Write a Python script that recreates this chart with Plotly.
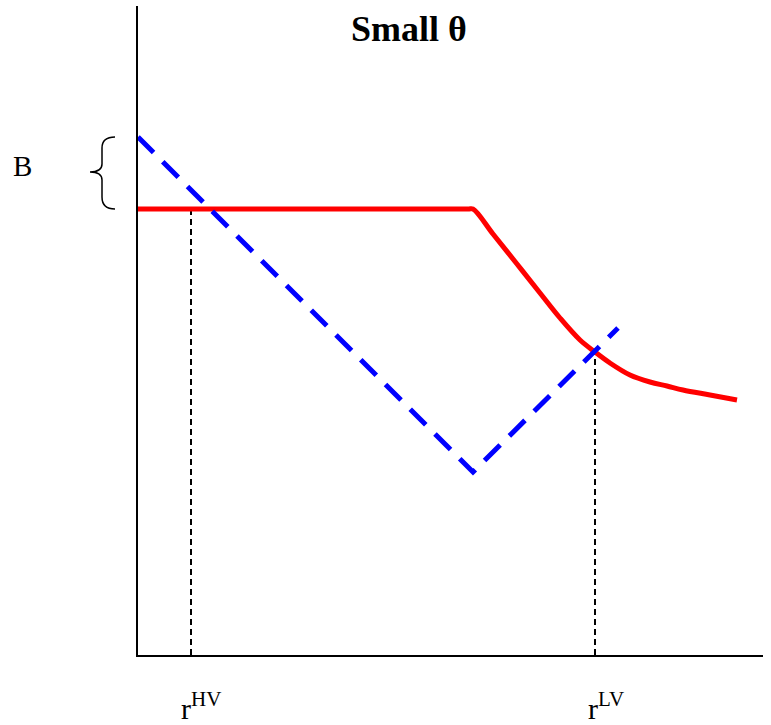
import plotly.graph_objects as go

W, H = 771, 725
ML, MR, MT, MB = 138, 8, 6, 70
PW, PH = W - ML - MR, H - MT - MB  # 625 x 649

# Data (arbitrary units along each axis)
red_x = [0, 330, 335, 355, 379, 402, 422, 442, 457, 472,
         492, 512, 529, 545, 572, 599]
red_y = [446, 446, 446, 421, 391, 362, 337, 315, 303, 292,
         280, 273, 269, 265, 260, 255]

blue_x = [0, 335, 480]
blue_y = [518, 183, 327]

hv_x = [53, 53]
hv_y = [0, 446]
lv_x = [457, 457]
lv_y = [0, 303]

title_text = "<b>Small θ</b>"
label_B = "B"
label_hv = "r<sup>HV</sup>"
label_lv = "r<sup>LV</sup>"

SERIF = "Liberation Serif, Times New Roman, serif"

def px2paper(px, py):
    return (px - ML) / PW, (H - MB - py) / PH

fig = go.Figure()
fig.add_trace(go.Scatter(x=hv_x, y=hv_y, mode="lines",
                         line=dict(color="black", width=2, dash="6px,4px"),
                         hoverinfo="skip"))
fig.add_trace(go.Scatter(x=lv_x, y=lv_y, mode="lines",
                         line=dict(color="black", width=2, dash="6px,4px"),
                         hoverinfo="skip"))
fig.add_trace(go.Scatter(x=red_x, y=red_y, mode="lines",
                         line=dict(color="#ff0000", width=5, shape="spline", smoothing=1.0),
                         hoverinfo="skip"))
fig.add_trace(go.Scatter(x=blue_x, y=blue_y, mode="lines",
                         line=dict(color="#0000ff", width=5, dash="22px,13px"),
                         hoverinfo="skip"))

# Curly brace as path in paper coords
brace_pts = [
    ("M", [(115, 137)]),
    ("Q", [(102, 137), (102, 148)]),
    ("L", [(102, 164)]),
    ("Q", [(102, 172), (90, 172)]),
    ("Q", [(102, 172), (102, 180)]),
    ("L", [(102, 197)]),
    ("Q", [(102, 209), (115, 209)]),
]
path = ""
for cmd, pts in brace_pts:
    path += cmd + " " + " ".join("%.5f,%.5f" % px2paper(a, b) for a, b in pts) + " "
fig.add_shape(type="path", path=path.strip(), xref="paper", yref="paper",
              line=dict(color="black", width=1.5))

def ann(text, px, py, size, **kw):
    x, y = px2paper(px, py)
    fig.add_annotation(text=text, x=x, y=y, xref="paper", yref="paper",
                       showarrow=False, font=dict(family=SERIF, size=size, color="black"),
                       xanchor="center", yanchor="middle", **kw)

ann(title_text, 409, 29, 36)
ann(label_B, 22.5, 166, 29)
ann(label_hv, 201, 706, 30)
ann(label_lv, 606, 706, 30)

fig.update_layout(
    width=W, height=H,
    margin=dict(l=ML, r=MR, t=MT, b=MB),
    paper_bgcolor="white", plot_bgcolor="white",
    showlegend=False,
    xaxis=dict(range=[0, PW], showgrid=False, zeroline=False, showticklabels=False,
               ticks="", showline=True, linecolor="black", linewidth=2, fixedrange=True),
    yaxis=dict(range=[0, PH], showgrid=False, zeroline=False, showticklabels=False,
               ticks="", showline=True, linecolor="black", linewidth=2, fixedrange=True),
)

fig.write_html("out.html", config={"displayModeBar": False},
               post_script="document.body.style.margin='0';")
